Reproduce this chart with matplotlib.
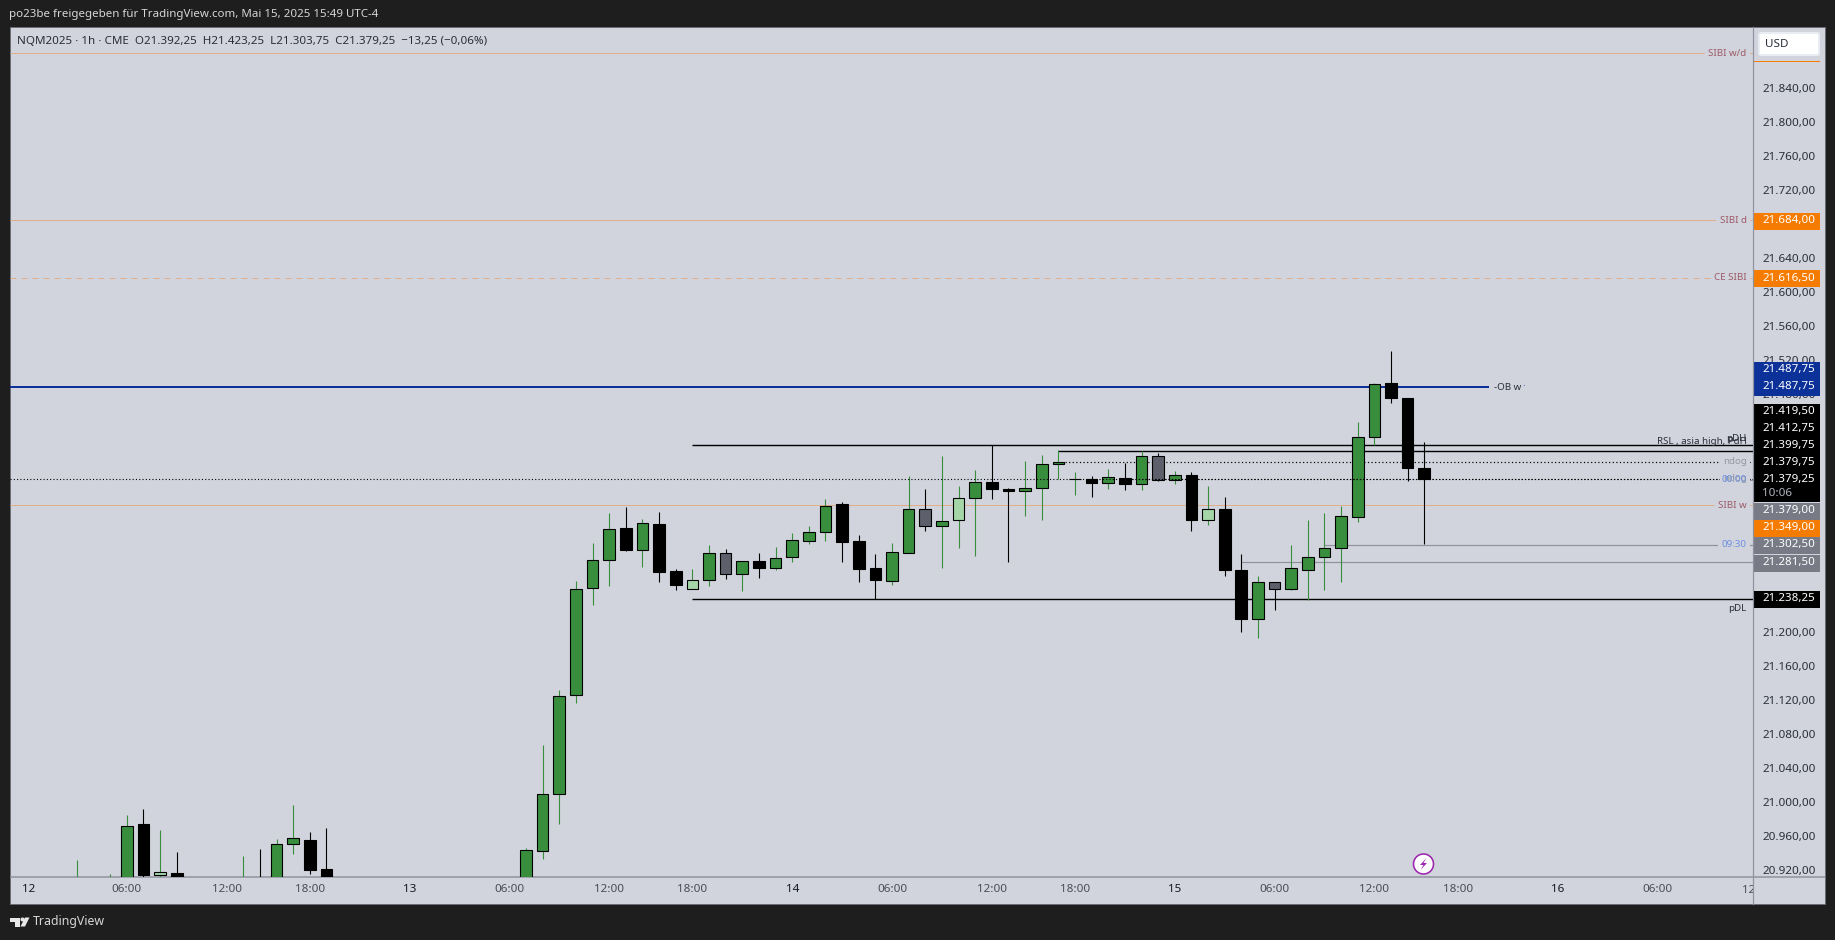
import matplotlib
matplotlib.use("Agg")
import matplotlib.pyplot as plt
from matplotlib.patches import Rectangle, FancyBboxPatch, Circle, Polygon
from matplotlib.transforms import Bbox, ScaledTranslation

plt.rcParams['font.family'] = ['Noto Sans', 'DejaVu Sans']

# ---------- data ----------
bars = [3,5,6,7,8,9,13,14,15,16,17,18,
        30,31,32,33,34,35,36,37,38,39,40,41,42,43,44,45,46,47,48,49,50,51,52,53,54,55,56,57,
        58,59,60,61,62,63,64,65,66,67,68,69,70,71,72,73,74,75,76,77,78,79,80,81,82,83,84]
opens = [20880,20880,20880,20973.2,20913.6,20916.4,20880,20900,20890,20950,20955.2,20921.1,
         20895,20942.3,21009.3,21125.3,21251.7,21284.6,21322.3,21296.4,21327,21271.7,21250.5,21261.1,21292.9,21268.2,21283.4,21274.8,21287.7,21306.5,21317.1,21349.7,21306.2,21274.4,21259.4,21292.4,21344.6,21324.2,21331.2,21357.1,
         21375.6,21367.3,21365.3,21368.9,21397.6,21379.1,21379.1,21374.7,21381.1,21374,21407,21378.3,21384.6,21331.7,21344.6,21272.9,21214.7,21258.7,21250,21272.4,21287.7,21298.3,21334.7,21428.9,21492,21475.2,21392.25]
highs = [20932,20914.4,20983.8,20992,20966.2,20940.3,20935.6,20943.8,20955.6,20996.7,20963.8,20968.5,
         20945.8,21066.2,21131.7,21259.9,21304.6,21339.1,21347,21332,21341.1,21274,21273.2,21301.5,21297.6,21283.4,21292,21299.1,21316.7,21323.8,21355.6,21352.9,21314,21290.9,21303.8,21382.6,21367.3,21406.2,21370.9,21389.7,
         21419.9,21369.3,21400.3,21407.3,21413.2,21387.3,21382.6,21390.9,21397.9,21412,21409.7,21388.5,21387.3,21370.9,21357.9,21290.9,21265,21258.7,21301.5,21330.9,21339.1,21347.3,21447,21492.9,21529.7,21475.2,21423.25]
lows = [20870,20870,20870,20910.8,20909.7,20885,20870,20880,20880,20937.9,20914.4,20890,
        20885,20932.4,20973.6,21115.9,21231.2,21253.6,21294.8,21275.9,21258.3,21248.9,21250.5,21253.6,21261.8,21247.3,21263,21272,21281.5,21302.6,21306.2,21281.5,21257.9,21238.8,21254.4,21292.4,21317.9,21274.4,21297.9,21288.5,
        21355.6,21281.5,21336.7,21330.9,21379.1,21361.4,21357.9,21367.3,21366.2,21366.2,21376.8,21373.2,21317.9,21325,21266.1,21199.1,21192,21225,21248.5,21236.8,21248.5,21257.9,21328.9,21419.1,21468.5,21376.8,21303.75]
closes = [20900,20900,20971.7,20913.2,20917.6,20895,20900,20890,20950.5,20957.6,20919.5,20900,
          20942.6,21009.3,21124.6,21250.5,21284.6,21321.1,21295.9,21328.2,21270,21254.8,21261.1,21292.9,21268.2,21283.4,21274.8,21287,21308.2,21317.6,21348.2,21305.3,21273.6,21260.6,21294,21344.6,21324.2,21330.5,21357.6,21376.4,
          21367.7,21365.3,21369.3,21397.6,21399.9,21379.9,21374.7,21382.3,21373.6,21407,21378.3,21384.6,21331.2,21344.6,21272.4,21214.7,21258.7,21250,21275.2,21288.2,21298.7,21336.4,21429.3,21491.7,21474.4,21392.4,21379.25]
light_bars = [8, 40, 56, 71]
gray_bars = [42, 54, 68, 75]

x_ticks = [0,6,12,17,23,29,35,40,46,52,58,63,69,75,81,86,92,98]
x_labels = ['12','06:00','12:00','18:00','13','06:00','12:00','18:00','14','06:00','12:00','18:00','15','06:00','12:00','18:00','16','06:00']
day_labels = ['12','13','14','15','16']
y_ticks = list(range(20920, 21880, 40))

sibi_wd = 21880.5
sibi_d = 21684.0
ce_sibi = 21616.5
ob_w = 21487.75
pdh = 21419.5
rsl = 21412.75
ndog_up = 21399.75
ndog_low = 21379.75
last_price = 21379.25
midnight = 21379.0
sibi_w = 21349.0
open_0930 = 21302.5
line_gray = 21281.5
pdl = 21238.25

# ---------- colours ----------
DARK = '#1e1e1e'; PANE = '#d1d4dc'; GREEN = '#388e3c'; LIGHT = '#a5d6a7'; GRAY = '#5d606b'
ORANGE_LINE = '#dfae8a'; BLUE = '#0c3299'; ORANGE = '#f57c00'; TAG_GRAY = '#787b86'
LINE_GRAY = '#8f929e'; MAROON = '#9c5a68'; BLUE_TXT = '#6d8fe0'; NDOG = '#9598a1'; INK = '#2a2e39'

W, H = 1835, 940
fig = plt.figure(figsize=(W/100, H/100), dpi=100, facecolor=DARK)
PX = 0.72  # points per pixel
FS = 8.4

def place(l, t, r, b, z):
    a = fig.add_axes([l/W, 1-b/H, (r-l)/W, (b-t)/H], zorder=z)
    return a

# background chrome in pixel coordinates
bg = place(0, 0, W, H, 0)
bg.set_xlim(0, W); bg.set_ylim(H, 0); bg.axis('off')
bg.add_patch(Rectangle((9.5, 26.5), 1815.5, 877.5, fc=PANE, ec='#6b6e75', lw=PX))
bg.plot([9.5, 1825], [877.3, 877.3], color=LINE_GRAY, lw=1.5*PX, solid_capstyle='butt')
bg.text(9, 14.5, 'po23be freigegeben für TradingView.com, Mai 15, 2025 15:49 UTC-4',
        color='#d6d6d6', fontsize=8.3, va='center', ha='left')
bg.text(33, 921.5, 'TradingView', color='#d6d6d6', fontsize=8.9, va='center', ha='left')
bg.add_patch(Polygon([(10,917.5),(19.5,917.5),(19.5,926.5),(15,926.5),(15,921.5),(10,921.5)], fc='#e8e8e8', ec='none'))
bg.add_patch(Circle((22.5, 919.5), 2, fc='#e8e8e8', ec='none'))
bg.add_patch(Polygon([(25,917.5),(29.5,917.5),(25,926.5),(20.5,926.5)], fc='#e8e8e8', ec='none'))

# main pane
ax = place(10, 27, 1753, 877.3, 1)
ax.patch.set_alpha(0)
ax.set_xlim(-1.022, 103.76)
ax.set_ylim(20911.06, 21911.4)
for s in ax.spines.values():
    s.set_visible(False)
ax.yaxis.tick_right()
ax.set_yticks(y_ticks)
ax.set_yticklabels([f"{v:,.2f}".replace(',', 'X').replace('.', ',').replace('X', '.') for v in y_ticks],
                   fontsize=FS, color='#2a2e39')
ax.set_xticks(x_ticks)
ax.set_xticklabels(x_labels, fontsize=FS, color='#4a4d57')
for t in ax.get_xticklabels():
    if t.get_text() in day_labels:
        t.set_color('#131722')
ax.tick_params(axis='y', length=0, pad=9*PX)
ax.tick_params(axis='x', length=0, pad=7*PX)
first = ax.get_xticklabels()[0]
first.set_transform(first.get_transform() + ScaledTranslation(2/100, 0, fig.dpi_scale_trans))
cut = ax.text(104, 20911.06 - 7.5/0.85, '12:00', fontsize=FS, color='#4a4d57', ha='center', va='top')
cut.set_clip_box(Bbox.from_extents(0, 0, 1753, H))
cut.set_clip_on(True)

xl, xr = ax.get_xlim()
def hline(price, start=None, end=None, **kw):
    ax.plot([xl if start is None else start, xr if end is None else end], [price, price],
            solid_capstyle='butt', dash_capstyle='butt', **kw)

hline(sibi_wd, color=ORANGE_LINE, lw=PX, zorder=2)
hline(sibi_d, color=ORANGE_LINE, lw=PX, zorder=2)
hline(ce_sibi, color=ORANGE_LINE, lw=PX, ls=(0, (6, 5)), zorder=2)
hline(sibi_w, color=ORANGE_LINE, lw=PX, zorder=2)
hline(ob_w, end=87.9, color=BLUE, lw=2*PX, zorder=2)
hline(pdh, start=39.95, color='black', lw=1.4*PX, zorder=2)
hline(rsl, start=62, color='black', lw=1.4*PX, zorder=2)
hline(pdl, start=39.95, color='black', lw=1.4*PX, zorder=2)
hline(ndog_up, start=62.4, color='black', lw=1.2*PX, ls=(0, (1, 2)), zorder=2)
hline(open_0930, start=78, color=LINE_GRAY, lw=1.2*PX, zorder=2)
hline(line_gray, start=73, color=LINE_GRAY, lw=1.2*PX, zorder=2)
hline(midnight, start=102, color=LINE_GRAY, lw=PX, zorder=2)

# candles
body_width = 0.70
for i, o, h, l, c in zip(bars, opens, highs, lows, closes):
    up = c >= o
    if i in light_bars:
        fc, wc = LIGHT, GREEN
    elif i in gray_bars:
        fc, wc = GRAY, 'black'
    elif up:
        fc, wc = GREEN, GREEN
    else:
        fc, wc = 'black', 'black'
    ax.vlines(i, l, h, color=wc, lw=1.1*PX, zorder=3)
    ax.add_patch(Rectangle((i-body_width/2, min(o, c)), body_width, abs(c-o),
                           fc=fc, ec='black', lw=1.1*PX, zorder=4))

hline(last_price, color='black', lw=1.1*PX, ls=(0, (1, 2)), zorder=5)
hline(ndog_low, start=66, color='black', lw=1.1*PX, ls=(0, (1, 2)), zorder=5)

# line labels
LBL = 7.0
def tag(price, text, color, bgbox=True, dy=0):
    kw = dict(bbox=dict(fc=PANE, ec='none', pad=2.4)) if bgbox else {}
    ax.annotate(text, xy=(1746.7, price), xycoords=('figure pixels', 'data'),
                xytext=(0, dy), textcoords='offset pixels',
                fontsize=LBL, color=color, ha='right', va='center', zorder=6, **kw)

tag(sibi_wd, 'SIBI w/d', MAROON)
tag(sibi_d, 'SIBI d', MAROON)
tag(ce_sibi, 'CE SIBI', MAROON)
tag(sibi_w, 'SIBI w', MAROON)
tag(ndog_up, 'ndog', NDOG)
tag(ndog_low, 'ndog', NDOG)
tag(midnight, '00:00', BLUE_TXT, bgbox=False)
tag(open_0930, '09:30', BLUE_TXT)
tag(pdh, 'pDH', INK, bgbox=False, dy=7)
tag(rsl, 'RSL , asia high, PdH', INK, bgbox=False, dy=9)
tag(pdl, 'pDL', INK, bgbox=False, dy=-9)
ax.annotate('-OB w', xy=(1494, ob_w), xycoords=('figure pixels', 'data'), fontsize=LBL, color=INK,
            ha='left', va='center', zorder=6)
ax.annotate('·', xy=(1522, ob_w), xycoords=('figure pixels', 'data'), fontsize=LBL, color=BLUE,
            ha='left', va='center', zorder=6)

# overlay: header, price tags, USD button, icon
top = place(0, 0, W, H, 2)
top.patch.set_alpha(0)
top.set_xlim(0, W); top.set_ylim(H, 0); top.axis('off')
top.plot([1753.3, 1753.3], [27, 904], color=LINE_GRAY, lw=1.2*PX)
top.plot([1754, 1819], [61.3, 61.3], color=ORANGE, lw=PX)
top.text(17, 41.5, 'NQM2025 · 1h · CME  O21.392,25  H21.423,25  L21.303,75  C21.379,25  −13,25 (−0,06%)',
         fontsize=8.35, color=INK, va='center', ha='left')
top.add_patch(FancyBboxPatch((1759, 33), 60, 22, boxstyle='round,pad=0,rounding_size=2', fc='white',
                             ec='#e9ecf2', lw=2*PX))
top.text(1765, 44.5, 'USD', fontsize=FS, color=INK, va='center', ha='left')

price_tags = [('21.684,00', 221.5, ORANGE), ('21.616,50', 278.5, ORANGE),
              ('21.487,75', 370.4, BLUE), ('21.487,75', 387, BLUE),
              ('21.419,50', 412.4, 'black'), ('21.412,75', 429.4, 'black'),
              ('21.399,75', 446, 'black'), ('21.379,75', 463, 'black'),
              ('21.379,25', 479.7, 'black'), ('21.379,00', 511, TAG_GRAY),
              ('21.349,00', 528.3, ORANGE), ('21.302,50', 545, TAG_GRAY),
              ('21.281,50', 563, TAG_GRAY), ('21.238,25', 599.5, 'black')]
for text, yc, col in price_tags:
    h = 31.2 if text == '21.379,25' else 17
    y0 = yc - 8.5
    top.add_patch(Rectangle((1754, y0), 65.5, h, fc=col, ec='none'))
    top.text(1762, yc - 0.5, text, fontsize=8.3, color='white', fontweight='bold', va='center', ha='left')
top.text(1762, 493.7, '10:06', fontsize=FS, color='#b2b5be', va='center', ha='left')

top.add_patch(Circle((1423.5, 864), 10, fc='white', ec='#9c27b0', lw=1.6*PX))
top.add_patch(Polygon([(1426.5, 858), (1420, 865), (1423.5, 865), (1420.5, 870), (1427, 863), (1423.5, 863)],
                      fc='#9c27b0', ec='none'))

fig.savefig('out.png', dpi=100, facecolor=DARK)
